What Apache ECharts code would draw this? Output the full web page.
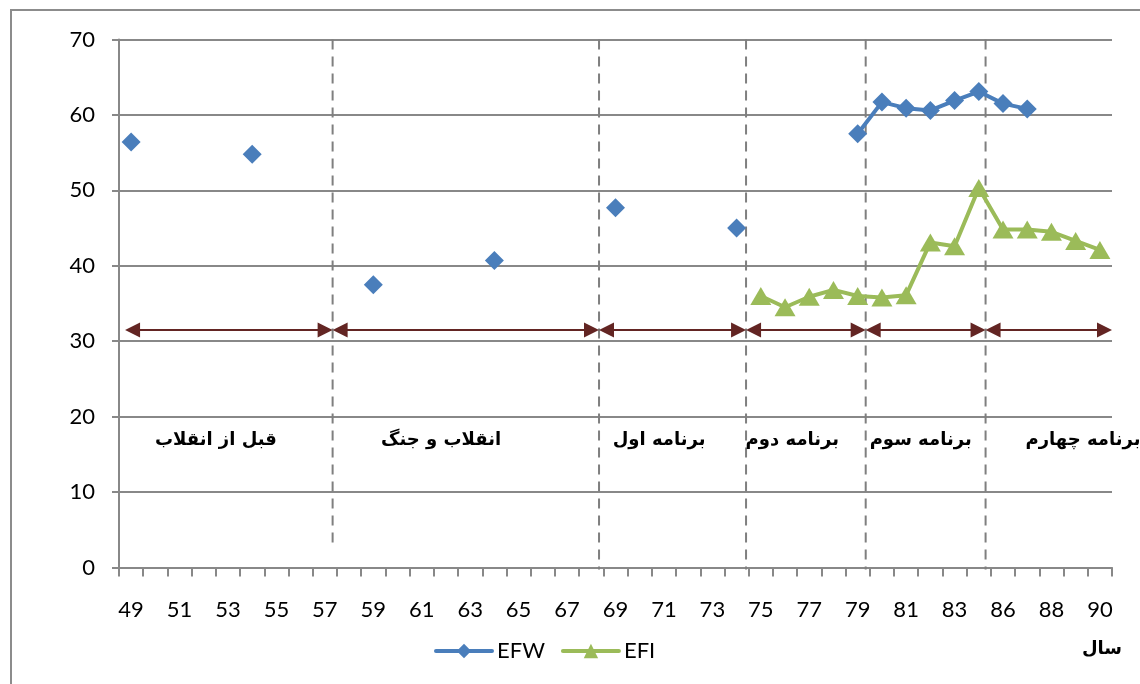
<!DOCTYPE html>
<html>
<head>
<meta charset="utf-8">
<script src="https://cdn.jsdelivr.net/npm/echarts@6/dist/echarts.min.js"></script>
<style>
  html, body { margin: 0; padding: 0; background: #fff; }
  #chart { width: 1140px; height: 684px; }
</style>
</head>
<body>
<div id="chart"></div>
<script>
// Years on the horizontal axis (year 85 has no entry)
const years = ['49','50','51','52','53','54','55','56','57','58','59','60','61','62','63','64','65','66','67','68',
               '69','70','71','72','73','74','75','76','77','78','79','80','81','82','83','84','86','87','88','89','90'];

// Economic freedom indices per year (null = no observation)
const efw = [56.4,null,null,null,null,54.8,null,null,null,null,37.5,null,null,null,null,40.7,null,null,null,null,
             47.7,null,null,null,null,45.0,null,null,null,null,57.5,61.7,60.9,60.6,61.9,63.1,61.5,60.8,null,null,null];
const efi = [null,null,null,null,null,null,null,null,null,null,null,null,null,null,null,null,null,null,null,null,
             null,null,null,null,null,null,36.0,34.5,35.9,36.8,36.0,35.8,36.1,43.1,42.6,50.3,44.8,44.8,44.5,43.3,42.1];

// Period boundaries, in category units along the axis
const periodBounds = [0.25, 8.82, 19.82, 25.89, 30.83, 35.78, 41.0];
const periodNames = ['قبل از انقلاب', 'انقلاب و جنگ', 'برنامه اول', 'برنامه دوم', 'برنامه سوم', 'برنامه چهارم'];
const periodLabelX = [4.0, 13.3, 22.3, 27.8, 33.1, 39.8];
const periodLabelY = 16.9;
const arrowY = 31.5;
const dividerBottom = [2.8, 0, 0, 0, 0];

const yTicks = { min: 0, max: 70, interval: 10 };

const BLUE = '#4a7ebb';
const GREEN = '#9bbb59';
const ARROW = '#632523';
const GRID = '#888888';

const arrowData = [];
for (let i = 0; i < periodBounds.length - 1; i++) arrowData.push([periodBounds[i], periodBounds[i + 1], arrowY]);
const dividerData = [];
for (let i = 1; i < periodBounds.length - 1; i++) dividerData.push([periodBounds[i], yTicks.max, dividerBottom[i - 1]]);
const labelData = periodNames.map((n, i) => [periodLabelX[i], periodLabelY, n]);

const chart = echarts.init(document.getElementById('chart'), null, { renderer: 'canvas' });

chart.setOption({
  backgroundColor: '#fff',
  animation: false,
  textStyle: { fontFamily: 'Lato' },
  grid: { left: 119, right: 28, top: 39.5, bottom: 116.5, containLabel: false },
  legend: {
    left: 429, top: 635,
    itemWidth: 56, itemHeight: 18, itemGap: 16,
    lineStyle: { width: 4, cap: 'round' },
    textStyle: { fontSize: 22, color: '#000', fontFamily: 'Lato' },
    data: ['EFW', 'EFI']
  },
  graphic: [
    { type: 'rect', shape: { x: 11, y: 10, width: 1300, height: 900 }, style: { fill: 'none', stroke: '#8c8c8c', lineWidth: 2 }, silent: true, z: -1 },
    { type: 'text', x: 1102, y: 649, style: { text: 'سال', font: 'bold 18px "DejaVu Sans"', fill: '#000', align: 'center', verticalAlign: 'middle' } }
  ],
  xAxis: [
    {
      type: 'category', data: years, boundaryGap: true,
      axisLine: { lineStyle: { color: GRID, width: 2 } },
      axisTick: { show: true, interval: 0, length: 9, lineStyle: { color: GRID, width: 2 } },
      axisLabel: { interval: 1, margin: 31, fontSize: 22, color: '#000', fontFamily: 'Lato' },
      splitLine: { show: false }
    },
    { type: 'value', min: 0, max: 41, show: false }
  ],
  yAxis: {
    type: 'value', min: yTicks.min, max: yTicks.max, interval: yTicks.interval,
    axisLine: { show: true, lineStyle: { color: GRID, width: 2 } },
    axisTick: { show: true, length: 7, lineStyle: { color: GRID, width: 2 } },
    axisLabel: { margin: 24, fontSize: 22, color: '#000', fontFamily: 'Lato' },
    splitLine: { lineStyle: { color: GRID, width: 2 } }
  },
  series: [
    {
      name: 'dividers', type: 'custom', xAxisIndex: 1, z: 1, silent: true,
      encode: { x: 0, y: [1, 2] },
      data: dividerData,
      renderItem: function (params, api) {
        const top = api.coord([api.value(0), api.value(1)]);
        const bot = api.coord([api.value(0), api.value(2)]);
        return { type: 'line', shape: { x1: top[0], y1: top[1], x2: bot[0], y2: bot[1] + (api.value(2) === 0 ? 2 : 0) },
                 style: { stroke: '#7f7f7f', lineWidth: 2, lineDash: [10, 7] } };
      }
    },
    {
      name: 'periods', type: 'custom', xAxisIndex: 1, z: 3, silent: true,
      encode: { x: [0, 1], y: 2 },
      data: arrowData,
      renderItem: function (params, api) {
        const a = api.coord([api.value(0), api.value(2)]);
        const b = api.coord([api.value(1), api.value(2)]);
        const L = 15, H = 7.5;
        return { type: 'group', children: [
          { type: 'line', shape: { x1: a[0] + L - 2, y1: a[1], x2: b[0] - L + 2, y2: b[1] }, style: { stroke: ARROW, lineWidth: 2 } },
          { type: 'polygon', shape: { points: [[a[0], a[1]], [a[0] + L, a[1] - H], [a[0] + L, a[1] + H]] }, style: { fill: ARROW } },
          { type: 'polygon', shape: { points: [[b[0], b[1]], [b[0] - L, b[1] - H], [b[0] - L, b[1] + H]] }, style: { fill: ARROW } }
        ] };
      }
    },
    {
      name: 'periodNames', type: 'custom', xAxisIndex: 1, z: 3, silent: true,
      encode: { x: 0, y: 1 },
      data: labelData,
      renderItem: function (params, api) {
        const p = api.coord([api.value(0), api.value(1)]);
        return { type: 'text', x: p[0], y: p[1],
                 style: { text: labelData[params.dataIndex][2], font: 'bold 18px "DejaVu Sans"', fill: '#000', align: 'center', verticalAlign: 'middle' } };
      }
    },
    {
      name: 'EFW', type: 'line', data: efw, z: 5,
      connectNulls: false, showAllSymbol: true,
      symbol: 'diamond', symbolSize: 19,
      lineStyle: { color: BLUE, width: 4 },
      itemStyle: { color: BLUE }
    },
    {
      name: 'EFI', type: 'line', data: efi, z: 5,
      connectNulls: false, showAllSymbol: true,
      symbol: 'triangle', symbolSize: [21, 18],
      lineStyle: { color: GREEN, width: 4 },
      itemStyle: { color: GREEN }
    }
  ]
});
</script>
</body>
</html>
